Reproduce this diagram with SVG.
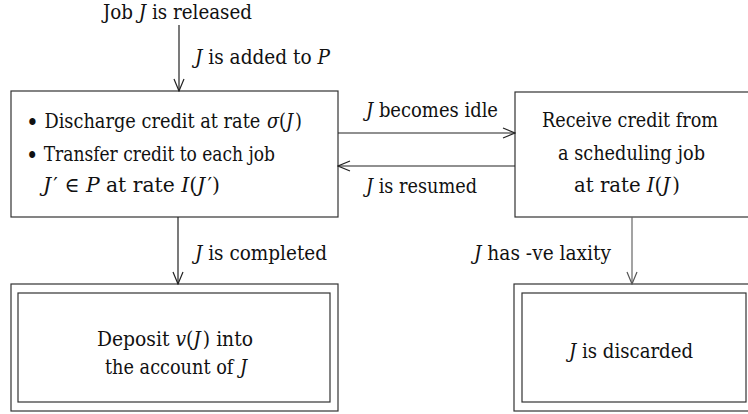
<svg xmlns="http://www.w3.org/2000/svg" width="748" height="414" viewBox="0 0 748 414">
<style>
text{font-family:'DejaVu Serif Condensed','DejaVu Serif',serif;font-stretch:condensed;font-size:20.5px;fill:#111;}
.m{font-style:italic;}
.c{text-anchor:middle;}
.b{font-size:25px;}
.box{fill:none;stroke:#333;stroke-width:1.2;}
.ln{fill:none;stroke:#222;stroke-width:1.2;}
.gr{stroke:#666;}
</style>
<defs>
<marker id="ah" viewBox="0 0 14 12" refX="13" refY="6" markerWidth="14" markerHeight="12" markerUnits="userSpaceOnUse" orient="auto">
<path d="M1,1 L13,6 L1,11" fill="none" stroke="#222" stroke-width="1.2"/>
</marker>
<marker id="ahg" viewBox="0 0 14 12" refX="13" refY="6" markerWidth="14" markerHeight="12" markerUnits="userSpaceOnUse" orient="auto">
<path d="M1,1 L13,6 L1,11" fill="none" stroke="#555" stroke-width="1.2"/>
</marker>
</defs>
<rect width="748" height="414" fill="#fff"/>
<g id="start">
<text x="177.5" y="19" class="c" textLength="149" lengthAdjust="spacingAndGlyphs">Job <tspan class="m">J</tspan> is released</text>
</g>
<g id="active">
<rect class="box" x="11" y="91" width="327" height="126"/>
<text x="26" y="128" textLength="276" lengthAdjust="spacingAndGlyphs"><tspan class="b" dy="3">•</tspan><tspan dy="-3"> Discharge credit at rate </tspan><tspan class="m" dx="1">σ</tspan>(<tspan class="m">J</tspan><tspan dx="2">)</tspan></text>
<text x="26" y="161" textLength="249" lengthAdjust="spacingAndGlyphs"><tspan class="b" dy="3">•</tspan><tspan dy="-3"> Transfer credit to each job</tspan></text>
<text x="43" y="192" textLength="177" lengthAdjust="spacingAndGlyphs"><tspan class="m">J</tspan><tspan dx="2">′ ∈ </tspan><tspan class="m">P</tspan> at rate <tspan class="m">I</tspan>(<tspan class="m">J</tspan><tspan dx="2">′)</tspan></text>
</g>
<g id="idle">
<rect class="box" x="515" y="92" width="240" height="125"/>
<text x="630" y="127" class="c" textLength="176" lengthAdjust="spacingAndGlyphs">Receive credit from</text>
<text x="631.5" y="160" class="c" textLength="147" lengthAdjust="spacingAndGlyphs">a scheduling job</text>
<text x="627" y="192" class="c" textLength="106" lengthAdjust="spacingAndGlyphs">at rate <tspan class="m">I</tspan>(<tspan class="m">J</tspan><tspan dx="2">)</tspan></text>
</g>
<g id="completed">
<rect class="box" x="11" y="284" width="327" height="127"/>
<rect class="box" x="18" y="293" width="312" height="109"/>
<text x="175" y="346" class="c" textLength="156" lengthAdjust="spacingAndGlyphs">Deposit <tspan class="m">v</tspan>(<tspan class="m">J</tspan><tspan dx="2">) into</tspan></text>
<text x="176" y="374" class="c" textLength="142" lengthAdjust="spacingAndGlyphs">the account of <tspan class="m" dx="1">J</tspan></text>
</g>
<g id="discarded">
<rect class="box" x="514" y="284" width="240" height="127"/>
<rect class="box" x="522" y="293" width="224" height="109"/>
<text x="631" y="358" class="c" textLength="124" lengthAdjust="spacingAndGlyphs"><tspan class="m">J</tspan> is discarded</text>
</g>
<g id="connectors">
<line class="ln" x1="179" y1="25" x2="179" y2="91" marker-end="url(#ah)"/>
<line class="ln" x1="178" y1="217" x2="178" y2="284" marker-end="url(#ah)"/>
<line class="ln" x1="338" y1="133" x2="515" y2="133" marker-end="url(#ah)"/>
<line class="ln" x1="515" y1="166" x2="338" y2="166" marker-end="url(#ah)"/>
<line class="ln gr" x1="632" y1="217" x2="632" y2="284" marker-end="url(#ahg)"/>
<text x="195" y="64" textLength="135" lengthAdjust="spacingAndGlyphs"><tspan class="m">J</tspan> is added to <tspan class="m">P</tspan></text>
<text x="366" y="117" textLength="132" lengthAdjust="spacingAndGlyphs"><tspan class="m">J</tspan> becomes idle</text>
<text x="366" y="193" textLength="111" lengthAdjust="spacingAndGlyphs"><tspan class="m">J</tspan> is resumed</text>
<text x="195" y="260" textLength="132" lengthAdjust="spacingAndGlyphs"><tspan class="m">J</tspan> is completed</text>
<text x="474" y="260" textLength="137" lengthAdjust="spacingAndGlyphs"><tspan class="m">J</tspan> has -ve laxity</text>
</g>
</svg>
